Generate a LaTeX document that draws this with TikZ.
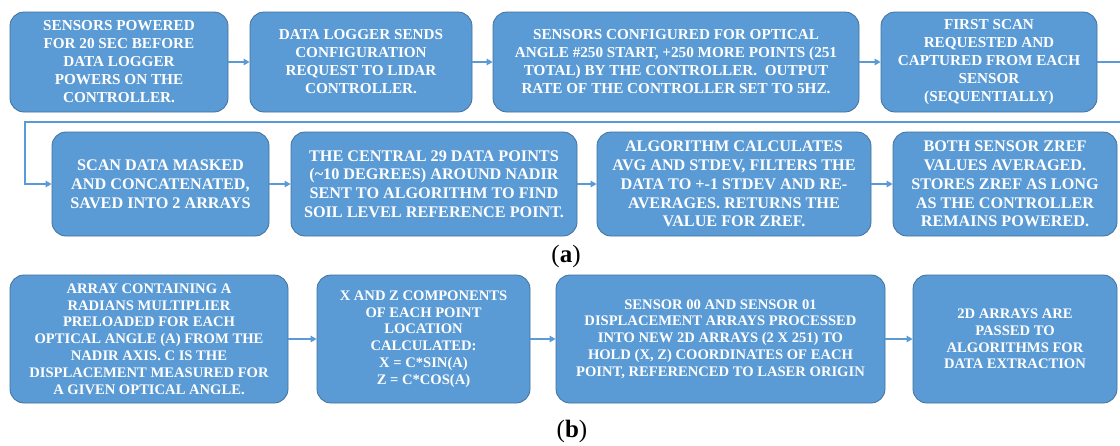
\documentclass[tikz,border=0pt]{standalone}
\usepackage{fontspec}
\setmainfont{Liberation Serif}
\usetikzlibrary{arrows.meta}
\definecolor{boxfill}{HTML}{5B9BD5}
\definecolor{boxedge}{HTML}{41719C}
\definecolor{linkblue}{HTML}{5B9BD5}
\newcommand{\rowafont}{\fontsize{15.2}{18}\selectfont\bfseries}
\newcommand{\rowmidfont}{\fontsize{16.2}{18.8}\selectfont\bfseries}
\newcommand{\rowbfont}{\fontsize{14.6}{16.8}\selectfont\bfseries}
\tikzset{
  flow/.style={draw=boxedge, fill=boxfill, rounded corners=14pt, line width=0.8pt,
    text=white, align=center, inner sep=0pt, font=\rowafont},
  flowmid/.style={flow, font=\rowmidfont},
  flowb/.style={flow, font=\rowbfont},
  conn/.style={draw=linkblue, line width=1.2pt,
    -{Triangle[length=6pt,width=6.5pt]}},
  tag/.style={font=\fontsize{25}{27}\selectfont, text=black}
}
\begin{document}
\begin{tikzpicture}[x=1pt, y=-1pt]
\useasboundingbox (0,0) rectangle (1120,445);
\fill[white] (0,0) rectangle (1120,445);

% ---- (a): start-up and reference level
\node[flow, minimum width=218pt, minimum height=100pt] (b1) at (119,62)
  {SENSORS POWERED\\FOR 20 SEC BEFORE\\DATA LOGGER\\POWERS ON THE\\CONTROLLER.};
\node[flow, minimum width=222pt, minimum height=100pt] (b2) at (361,62)
  {DATA LOGGER SENDS\\CONFIGURATION\\REQUEST TO LIDAR\\CONTROLLER.};
\node[flow, minimum width=366pt, minimum height=100pt] (b3) at (676,62)
  {SENSORS CONFIGURED FOR OPTICAL\\ANGLE \#250 START, +250 MORE POINTS (251\\TOTAL) BY THE CONTROLLER.\ \ OUTPUT\\RATE OF THE CONTROLLER SET TO 5HZ.};
\node[flow, minimum width=216pt, minimum height=100pt] (b4) at (989,62)
  {FIRST SCAN\\REQUESTED AND\\CAPTURED FROM EACH\\SENSOR\\(SEQUENTIALLY)};

\node[flowmid, minimum width=217pt, minimum height=104pt] (b5) at (160.5,184)
  {SCAN DATA MASKED\\AND CONCATENATED,\\SAVED INTO 2 ARRAYS};
\node[flowmid, minimum width=286pt, minimum height=104pt] (b6) at (434,184)
  {THE CENTRAL 29 DATA POINTS\\(\textasciitilde10 DEGREES) AROUND NADIR\\SENT TO ALGORITHM TO FIND\\SOIL LEVEL REFERENCE POINT.};
\node[flowmid, minimum width=274pt, minimum height=104pt] (b7) at (734,184)
  {ALGORITHM CALCULATES\\AVG AND STDEV, FILTERS THE\\DATA TO +-1 STDEV AND RE-\\AVERAGES. RETURNS THE\\VALUE FOR ZREF.};
\node[flowmid, minimum width=224pt, minimum height=104pt] (b8) at (1005,184)
  {BOTH SENSOR ZREF\\VALUES AVERAGED.\\STORES ZREF AS LONG\\AS THE CONTROLLER\\REMAINS POWERED.};

\draw[conn] (b1) -- (b2);
\draw[conn] (b2) -- (b3);
\draw[conn] (b3) -- (b4);
\coordinate (wrapR) at (1150,122);
\coordinate (wrapL) at (25,122);
\draw[conn] (b4.east) -| (wrapR) -- (wrapL) |- (b5.west);
\draw[conn] (b5) -- (b6);
\draw[conn] (b6) -- (b7);
\draw[conn] (b7) -- (b8);

\node[tag] (taga) at (566,256) {(\textbf{a})};

% ---- (b): conversion to coordinates
\node[flowb, minimum width=278pt, minimum height=128pt] (b9) at (149,339)
  {ARRAY CONTAINING A\\RADIANS MULTIPLIER\\PRELOADED FOR EACH\\OPTICAL ANGLE (A) FROM THE\\NADIR AXIS. C IS THE\\DISPLACEMENT MEASURED FOR\\A GIVEN OPTICAL ANGLE.};
\node[flowb, minimum width=213pt, minimum height=128pt] (b10) at (423.5,339)
  {X AND Z COMPONENTS\\OF EACH POINT\\LOCATION\\CALCULATED:\\X = C*SIN(A)\\Z = C*COS(A)};
\node[flowb, minimum width=329pt, minimum height=128pt] (b11) at (720.5,339)
  {SENSOR 00 AND SENSOR 01\\DISPLACEMENT ARRAYS PROCESSED\\INTO NEW 2D ARRAYS (2 X 251) TO\\HOLD (X, Z) COORDINATES OF EACH\\POINT, REFERENCED TO LASER ORIGIN};
\node[flowb, minimum width=204pt, minimum height=128pt] (b12) at (1015,339)
  {2D ARRAYS ARE\\PASSED TO\\ALGORITHMS FOR\\DATA EXTRACTION};

\draw[conn] (b9) -- (b10);
\draw[conn] (b10) -- (b11);
\draw[conn] (b11) -- (b12);

\node[tag] (tagb) at (572,431) {(\textbf{b})};
\end{tikzpicture}
\end{document}
